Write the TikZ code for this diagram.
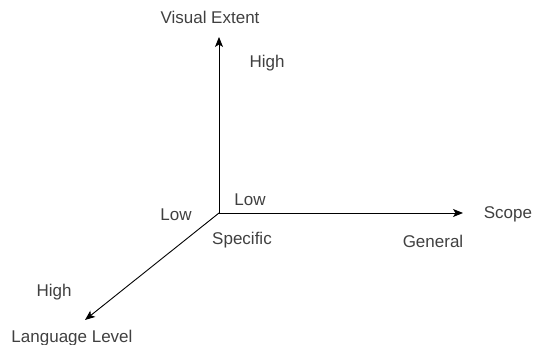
\documentclass[tikz,border=0pt]{standalone}
\usepackage{fontspec}
\setmainfont{Liberation Sans}
\usetikzlibrary{arrows.meta}

\begin{document}
\begin{tikzpicture}[
				x=1pt, y=1pt,
				label style/.style={
					inner sep=0pt,
					text=black!75,
					font=\fontsize{17}{20}\selectfont
				},
				axis style/.style={
					->, line width=0.9pt, draw=black
				},
				>={Stealth[length=10pt,width=8pt,inset=2.5pt]}
				]
				
				\useasboundingbox (0,0) rectangle (536,345);
				
				\coordinate (origin) at (219,132);
				\coordinate (visualtip) at (219,308);
				\coordinate (scopetip) at (463,132);
				\coordinate (languagetip) at (85,25);
				
				\node[label style] (visual) at (210,328) {Visual Extent};
				\node[label style] (visualhigh) at (267,282) {High};
				\node[label style] (visuallow) at (250,145) {Low};
				
				\node[label style] (scope) at (508,131) {Scope};
				\node[label style] (specific) at (242,105) {Specific};
				\node[label style] (general) at (433,104) {General};
				
				\node[label style] (language) at (72,7) {Language Level};
				\node[label style] (languagehigh) at (54,53) {High};
				\node[label style] (languagelow) at (176,130) {Low};
				
				\draw[axis style] (origin) -- (visualtip);
				\draw[axis style] (origin) -- (scopetip);
				\draw[axis style] (origin) -- (languagetip);
				
			\end{tikzpicture}
\end{document}
